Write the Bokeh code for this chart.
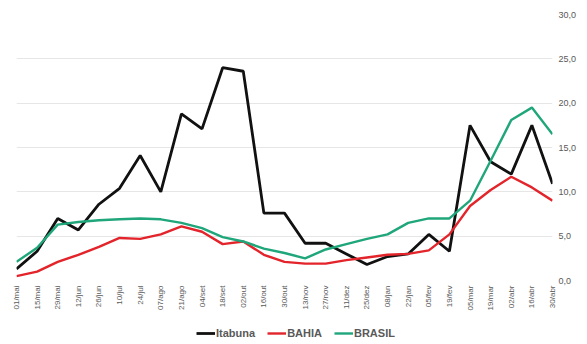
import numpy as np
from bokeh.plotting import figure
from bokeh.layouts import column
from bokeh.models import Range1d, FixedTicker, Legend, LegendItem, ColumnDataSource
from bokeh.embed import file_html
from bokeh.resources import INLINE

dates = ["01/mai", "15/mai", "29/mai", "12/jun", "26/jun", "10/jul", "24/jul", "07/ago",
         "21/ago", "04/set", "18/set", "02/out", "16/out", "30/out", "13/nov", "27/nov",
         "11/dez", "25/dez", "08/jan", "22/jan", "05/fev", "19/fev", "05/mar", "19/mar",
         "02/abr", "16/abr", "30/abr"]

itabuna = [1.3, 3.3, 7.0, 5.7, 8.6, 10.4, 14.1, 10.0, 18.8, 17.1, 24.0, 23.6, 7.6, 7.6,
           4.2, 4.2, 3.0, 1.8, 2.7, 3.0, 5.2, 3.3, 17.5, 13.4, 12.0, 17.5, 10.9]
bahia = [0.5, 1.0, 2.1, 2.9, 3.8, 4.8, 4.7, 5.2, 6.1, 5.5, 4.1, 4.4, 2.9, 2.1,
         1.9, 1.9, 2.3, 2.6, 2.9, 3.0, 3.4, 5.2, 8.4, 10.2, 11.7, 10.5, 9.0]
brasil = [2.1, 3.7, 6.3, 6.6, 6.8, 6.9, 7.0, 6.9, 6.5, 5.9, 4.9, 4.4, 3.6, 3.1,
          2.5, 3.5, 4.1, 4.7, 5.2, 6.5, 7.0, 7.0, 9.0, 13.5, 18.1, 19.5, 16.5]

series_keys = ["itabuna", "bahia", "brasil"]
series_names = ["Itabuna", "BAHIA", "BRASIL"]
series_colors = ["#111111", "#e3242b", "#1fa67a"]
series_widths = [2.8, 2.4, 2.4]

y_ticks = [0, 5, 10, 15, 20, 25, 30]
y_labels = ["0,0", "5,0", "10,0", "15,0", "20,0", "25,0", "30,0"]

x = list(range(len(dates)))
src = ColumnDataSource(dict(x=x, itabuna=itabuna, bahia=bahia, brasil=brasil))

font = "Liberation Sans"

p = figure(width=587, height=320, output_backend="svg", toolbar_location=None,
           x_range=Range1d(0, len(dates) - 1), y_range=Range1d(0, 30),
           y_axis_location="right")
p.min_border_left = 16
p.min_border_right = 35
p.min_border_top = 14
p.min_border_bottom = 40
p.outline_line_color = None
p.background_fill_color = "white"
p.border_fill_color = "white"

p.xaxis.ticker = FixedTicker(ticks=x)
p.xaxis.major_label_overrides = {i: d for i, d in enumerate(dates)}
p.xaxis.major_label_orientation = np.pi / 2
p.xaxis.major_label_text_font_size = "8px"
p.xaxis.major_label_text_color = "#595959"
p.xaxis.major_label_text_font = font
p.xaxis.axis_line_color = None
p.xaxis.major_tick_line_color = None
p.xaxis.minor_tick_line_color = None
p.xaxis.major_tick_out = 0
p.xaxis.major_tick_in = 0
p.xaxis.major_label_standoff = 5

p.yaxis.ticker = FixedTicker(ticks=y_ticks)
p.yaxis.major_label_overrides = {t: l for t, l in zip(y_ticks, y_labels)}
p.yaxis.major_label_text_font_size = "9px"
p.yaxis.major_label_text_color = "#595959"
p.yaxis.major_label_text_font = font
p.yaxis.axis_line_color = None
p.yaxis.major_tick_line_color = None
p.yaxis.minor_tick_line_color = None
p.yaxis.major_tick_out = 0
p.yaxis.major_tick_in = 0
p.yaxis.major_label_standoff = 6

p.xgrid.grid_line_color = None
p.ygrid.grid_line_color = "#e6e6e6"
p.ygrid.grid_line_width = 1

for key, col, w in zip(series_keys, series_colors, series_widths):
    p.line("x", key, source=src, line_color=col, line_width=w)

# legend strip below the chart (its lines are outside the strip's visible range)
lg = figure(width=587, height=24, output_backend="svg", toolbar_location=None,
            x_axis_type=None, y_axis_type=None, min_border=0,
            x_range=Range1d(-100, -99), y_range=Range1d(-100, -99))
lg.outline_line_color = None
lg.border_fill_color = "white"
lg.background_fill_color = "white"
items = []
for key, name, col, w in zip(series_keys, series_names, series_colors, series_widths):
    r = lg.line("x", key, source=src, line_color=col, line_width=w)
    items.append(LegendItem(label=name, renderers=[r]))

legend = Legend(items=items, orientation="horizontal", location=(180, 5))
legend.label_text_font = font
legend.label_text_font_size = "11px"
legend.label_text_font_style = "bold"
legend.label_text_color = "#595959"
legend.glyph_width = 19
legend.glyph_height = 10
legend.spacing = 12
legend.label_standoff = 1
legend.padding = 1
legend.margin = 0
legend.border_line_color = None
legend.background_fill_alpha = 0
lg.add_layout(legend, "center")

layout = column(p, lg, spacing=0)
open("out.html", "w").write(file_html(layout, INLINE))
